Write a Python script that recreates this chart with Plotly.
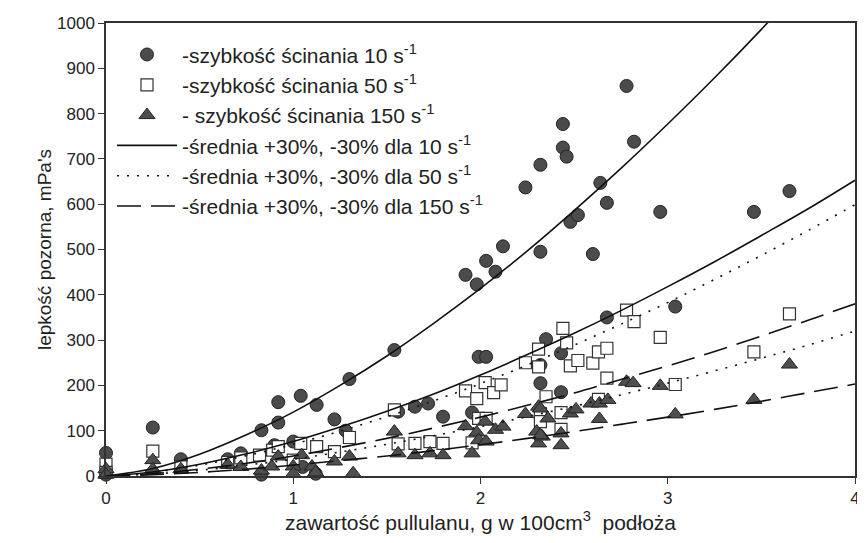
import plotly.graph_objects as go

# --- measured data: shear rate 10 1/s (circles)
x10 = [0, 0, 0.25, 0.40, 0.65, 0.72, 0.83, 0.83, 0.90, 0.92, 0.92, 1.0, 1.04, 1.05, 1.12, 1.125,
       1.22, 1.28, 1.30, 1.54, 1.56, 1.65, 1.72, 1.80, 1.92, 1.955, 1.98, 1.99, 2.03, 2.03, 2.08,
       2.12, 2.24, 2.32, 2.32, 2.32, 2.32, 2.35, 2.43, 2.43, 2.44, 2.44, 2.46, 2.48, 2.52, 2.60,
       2.64, 2.675, 2.675, 2.78, 2.82, 2.96, 3.04, 3.46, 3.65]
y10 = [51, 3, 107, 37, 37, 50, 101, 3, 68, 118, 163, 76, 177, 20, 5, 157,
       125, 100, 214, 278, 142, 153, 160, 131, 444, 140, 423, 263, 263, 475, 451,
       507, 637, 687, 495, 205, 245, 302, 271, 185, 777, 725, 705, 561, 576, 490,
       647, 603, 350, 861, 738, 583, 374, 583, 629]

# --- shear rate 50 1/s (open squares)
x50 = [0, 0, 0.25, 0.40, 0.65, 0.72, 0.82, 0.89, 0.92, 1.0, 1.04, 1.125, 1.22, 1.30, 1.54, 1.56,
       1.65, 1.73, 1.80, 1.92, 1.955, 1.98, 1.99, 2.025, 2.03, 2.07, 2.11, 2.24, 2.31, 2.31, 2.32,
       2.32, 2.35, 2.43, 2.43, 2.44, 2.46, 2.48, 2.52, 2.60, 2.63, 2.63, 2.675, 2.675, 2.78, 2.82,
       2.96, 3.04, 3.46, 3.65]
y50 = [26, 8, 55, 20, 30, 40, 46, 57, 65, 35, 72, 65, 54, 85, 146, 71,
       72, 76, 72, 188, 73, 171, 127, 206, 127, 184, 201, 250, 280, 241, 138,
       120, 175, 140, 103, 326, 294, 243, 255, 249, 274, 169, 282, 216, 366, 341,
       306, 202, 274, 358]

# --- shear rate 150 1/s (triangles)
x150 = [0, 0, 0.25, 0.25, 0.40, 0.65, 0.72, 0.83, 0.885, 0.92, 1.0, 1.0, 1.045, 1.10, 1.12, 1.22,
        1.30, 1.32, 1.54, 1.56, 1.65, 1.73, 1.80, 1.92, 1.955, 1.98, 1.99, 2.025, 2.03, 2.08, 2.12,
        2.24, 2.30, 2.31, 2.31, 2.32, 2.33, 2.32, 2.36, 2.43, 2.43, 2.48, 2.51, 2.59, 2.635, 2.635,
        2.68, 2.78, 2.815, 2.96, 3.04, 3.46, 3.65]
y150 = [15, 3, 35, 15, 15, 25, 20, 12, 21, 43, 21, 5, 46, 21, 8, 32,
        43, 6, 98, 50, 46, 50, 46, 110, 50, 96, 79, 120, 76, 102, 109,
        137, 98, 153, 72, 149, 87, 90, 127, 94, 68, 138, 147, 160, 160, 126,
        168, 208, 205, 199, 136, 168, 246]

# --- band curves (mean +30% / -30%)
xc = [0, 0.25, 0.5, 0.75, 1, 1.25, 1.5, 1.75, 2, 2.25, 2.5, 2.75, 3, 3.25, 3.5, 3.75, 4]
c10_hi = [0, 16.5, 48, 91, 141, 200, 265, 337, 414, 497, 586, 679, 777, 879, 986, 1098, 1213]
c10_lo = [0, 8.9, 26, 49, 76, 108, 143, 181, 223, 268, 315, 365, 418, 473, 531, 590, 653]
c50_hi = [0, 8.1, 24, 45, 70, 99, 131, 166, 204, 245, 289, 335, 383, 434, 487, 542, 599]
c50_lo = [0, 4.3, 12.7, 24, 37, 53, 70, 89, 109, 131, 154, 179, 205, 232, 260, 289, 320]
c150_hi = [0, 5.2, 15, 28, 44, 63, 83, 106, 130, 156, 183, 213, 243, 275, 309, 344, 380]
c150_lo = [0, 2.8, 8.1, 15, 24, 34, 44, 56, 69, 83, 98, 114, 130, 147, 165, 184, 203]

FONT = "Liberation Sans, Arial, sans-serif"
fig = go.Figure()

fig.add_trace(go.Scatter(x=x10, y=y10, mode="markers", name="-szybkość ścinania 10 s<sup>-1</sup>",
                         marker=dict(symbol="circle", size=13, color="#4b4b4b",
                                     line=dict(color="#222222", width=1)), cliponaxis=False))
fig.add_trace(go.Scatter(x=x50, y=y50, mode="markers", name="-szybkość ścinania 50 s<sup>-1</sup>",
                         marker=dict(symbol="square", size=12, color="white",
                                     line=dict(color="#333333", width=1.2)), cliponaxis=False))
fig.add_trace(go.Scatter(x=x150, y=y150, mode="markers", name="- szybkość ścinania 150 s<sup>-1</sup>",
                         marker=dict(symbol="triangle-up", size=14, color="#4e4e4e",
                                     line=dict(color="#222222", width=1)), cliponaxis=False))

curves = [
    (c10_hi, c10_lo, "solid", "-średnia +30%, -30% dla 10 s<sup>-1</sup>", "g10"),
    (c50_hi, c50_lo, "2px,8px", "-średnia +30%, -30% dla 50 s<sup>-1</sup>", "g50"),
    (c150_hi, c150_lo, "24px,10px", "-średnia +30%, -30% dla 150 s<sup>-1</sup>", "g150"),
]
for hi, lo, dash, name, grp in curves:
    fig.add_trace(go.Scatter(x=xc, y=hi, mode="lines", name=name, legendgroup=grp,
                             line=dict(color="#111111", width=1.6, dash=dash, shape="spline")))
    fig.add_trace(go.Scatter(x=xc, y=lo, mode="lines", name=name, legendgroup=grp, showlegend=False,
                             line=dict(color="#111111", width=1.6, dash=dash, shape="spline")))

# page body has an 8px default margin; the figure is sized to fit inside the window
fig.update_layout(
    width=857, height=527,
    margin=dict(l=98, r=10, t=15, b=59),
    paper_bgcolor="white", plot_bgcolor="white",
    font=dict(family=FONT, color="#222222", size=17),
    showlegend=True,
    legend=dict(x=0.008, y=0.975, xanchor="left", yanchor="top",
                bgcolor="rgba(0,0,0,0)", font=dict(size=21, family=FONT, color="#222222"),
                tracegroupgap=0, itemwidth=60),
)
fig.update_xaxes(range=[0, 4], tickvals=[0, 1, 2, 3, 4], ticks="outside", ticklen=6,
                 tickcolor="#333333", showline=True, linecolor="#333333", linewidth=1.5,
                 mirror=True, showgrid=False, zeroline=False, automargin=False,
                 tickfont=dict(size=17), ticklabeloverflow="allow",
                 title=dict(text="zawartość pullulanu, g w 100cm<sup>3</sup>  podłoża",
                            font=dict(size=21), standoff=6))
fig.update_yaxes(range=[0, 1000], tickvals=list(range(0, 1001, 100)), ticks="outside", ticklen=6,
                 tickcolor="#333333", showline=True, linecolor="#333333", linewidth=1.5,
                 mirror=True, showgrid=False, zeroline=False, automargin=False,
                 tickfont=dict(size=17),
                 title=dict(text="lepkość pozorna, mPa's", font=dict(size=19), standoff=0))

fig.write_html("out.html")
